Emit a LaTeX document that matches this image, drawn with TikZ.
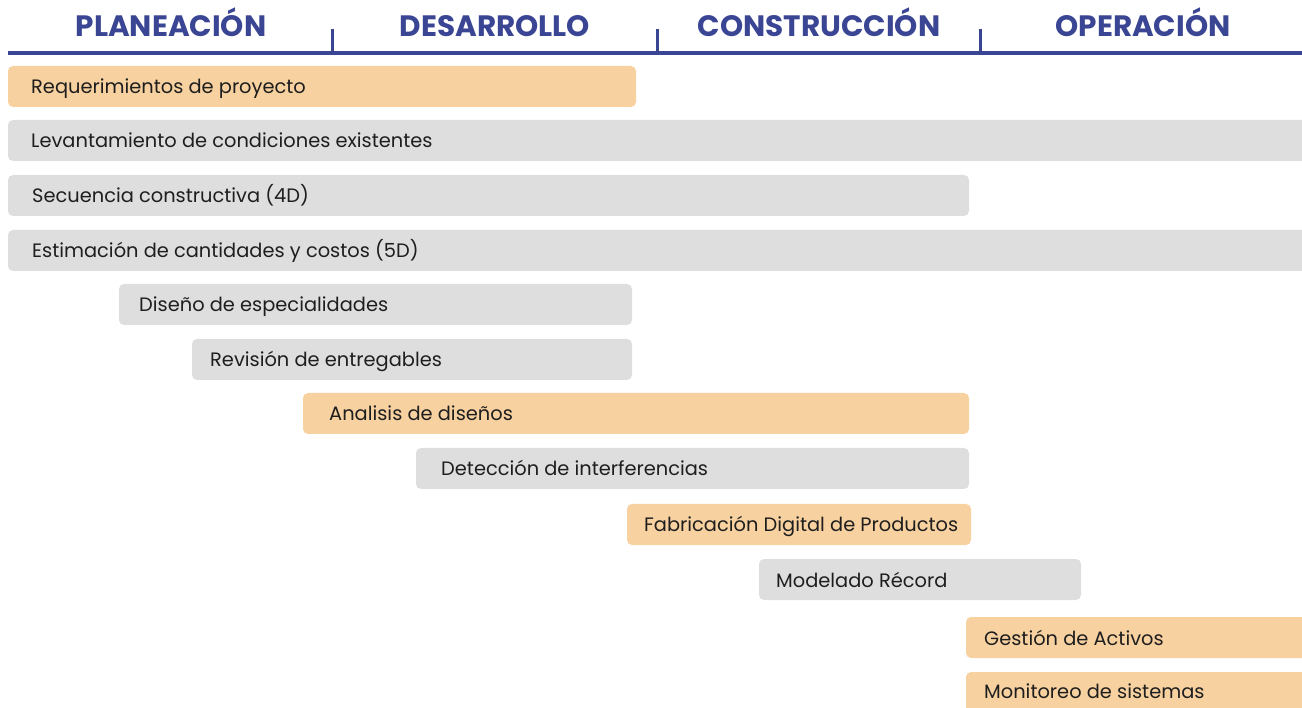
\documentclass[tikz,border=0pt]{standalone}
\usepackage{fontspec}
\setmainfont{Poppins}
\definecolor{hblue}{HTML}{3A4594}
\definecolor{barorange}{HTML}{F8D1A0}
\definecolor{bargray}{HTML}{DEDEDE}
\definecolor{txt}{HTML}{1E1E1E}
\begin{document}
\begin{tikzpicture}[x=1pt,y=-1pt,
  phase/.style={font=\fontsize{29.5}{30}\selectfont\bfseries, text=hblue, anchor=base, inner sep=0},
  bar/.style={rounded corners=5pt, draw=none},
  obar/.style={bar, fill=barorange},
  gbar/.style={bar, fill=bargray},
  lbl/.style={font=\fontsize{19.4}{20}\selectfont, text=txt, anchor=base west, inner sep=0},
  rule/.style={draw=hblue, line width=4pt},
  tick/.style={draw=hblue, line width=3pt}]
\useasboundingbox (0,0) rectangle (1302,708);
% header
\node[phase] (p1) at (171,37) {PLANEACIÓN};
\node[phase] (p2) at (495,37) {DESARROLLO};
\node[phase] (p3) at (819,37) {CONSTRUCCIÓN};
\node[phase] (p4) at (1143,37) {OPERACIÓN};
\coordinate (r0) at (8,53);
\coordinate (r1) at (1302,53);
\draw[rule] (r0) -- (r1);
\coordinate (t1a) at (332,29); \coordinate (t1b) at (332,53);
\coordinate (t2a) at (657,29); \coordinate (t2b) at (657,53);
\coordinate (t3a) at (980,29); \coordinate (t3b) at (980,53);
\draw[tick] (t1a) -- (t1b);
\draw[tick] (t2a) -- (t2b);
\draw[tick] (t3a) -- (t3b);
% bars
\fill[obar] (8,66) rectangle (636,107);
\node[lbl] (b1) at (31,94) {Requerimientos de proyecto};
\fill[gbar] (8,120) rectangle (1310,161);
\node[lbl] (b2) at (31,148) {Levantamiento de condiciones existentes};
\fill[gbar] (8,175) rectangle (969,216);
\node[lbl] (b3) at (32,203) {Secuencia constructiva (4D)};
\fill[gbar] (8,230) rectangle (1310,271);
\node[lbl] (b4) at (32,258) {Estimación de cantidades y costos (5D)};
\fill[gbar] (119,284) rectangle (632,325);
\node[lbl] (b5) at (139,312) {Diseño de especialidades};
\fill[gbar] (192,339) rectangle (632,380);
\node[lbl] (b6) at (210,367) {Revisión de entregables};
\fill[obar] (303,393) rectangle (969,434);
\node[lbl] (b7) at (329,421) {Analisis de diseños};
\fill[gbar] (416,448) rectangle (969,489);
\node[lbl] (b8) at (441,476) {Detección de interferencias};
\fill[obar] (627,504) rectangle (971,545);
\node[lbl] (b9) at (644,532) {Fabricación Digital de Productos};
\fill[gbar] (759,559) rectangle (1081,600);
\node[lbl] (b10) at (776,587) {Modelado Récord};
\fill[obar] (966,617) rectangle (1310,658);
\node[lbl] (b11) at (984,645) {Gestión de Activos};
\fill[obar] (966,672) rectangle (1310,716);
\node[lbl] (b12) at (984,698) {Monitoreo de sistemas};
\end{tikzpicture}
\end{document}
